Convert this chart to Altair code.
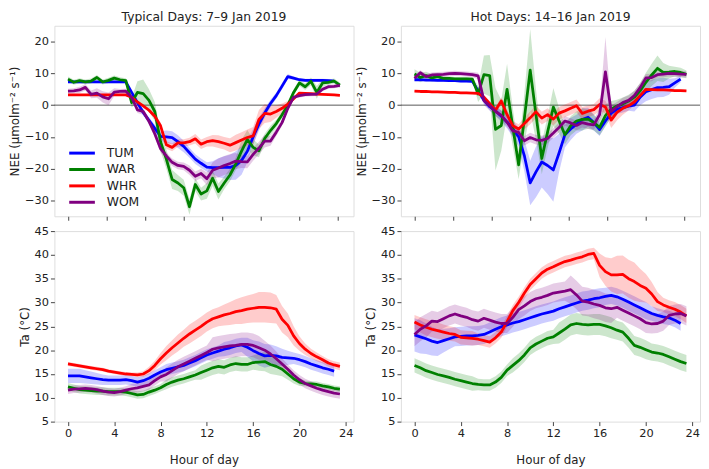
import altair as alt
import pandas as pd

hours = [i * 0.5 for i in range(48)]
sites = ["TUM", "WAR", "WHR", "WOM"]
site_colors = ["#0000ff", "#008000", "#ff0000", "#800080"]

# ---------------- NEE, typical days (7-9 Jan 2019) ----------------
nee_typ_tum = [7.3, 7.3, 7.3, 7.3, 7.3, 7.3, 7.3, 7.3, 7.3, 7.3, 7.3, 4.0, 0.8, -2.3, -4.8, -7.3,
               -9.8, -10.0, -10.2, -11.5, -13.0, -15.0, -17.0, -18.3, -19.5, -19.7, -19.7, -19.6,
               -19.6, -19.0, -17.4, -14.5, -10.0, -6.0, -2.5, 0.5, 3.0, 6.0, 9.0, 8.5, 8.0, 7.8,
               7.8, 7.8, 7.8, 7.7, 7.6, None]
nee_typ_war = [8.2, 7.2, 7.7, 7.3, 7.6, 8.7, 7.3, 7.8, 8.5, 8.0, 7.7, 0.8, 4.0, 3.6, 1.5, -2.0,
               -11.5, -17.0, -23.4, -24.5, -26.0, -32.0, -25.0, -28.0, -27.0, -23.0, -27.2, -24.5,
               -22.0, -18.5, -14.5, -10.8, -13.3, -14.4, -10.5, -8.0, -5.8, -3.0, 0.0, 4.0, 7.0,
               5.8, 7.5, 4.0, 7.0, 7.2, 7.6, 6.3]
nee_typ_whr = [3.2, 3.2, 3.2, 3.2, 3.2, 3.2, 3.2, 3.2, 3.2, 3.2, 3.2, 2.5, 1.0, -0.2, -1.6, -3.5,
               -6.5, -12.5, -13.3, -11.9, -11.9, -11.5, -10.6, -12.3, -11.5, -11.2, -11.5, -12.0,
               -12.6, -11.8, -11.0, -10.2, -9.7, -4.5, -2.6, -2.8, -2.0, -1.0, 0.3, 2.0, 3.8, 3.7,
               3.6, 3.5, 3.4, 3.3, 3.2, 3.1]
nee_typ_wom = [4.4, 4.5, 4.8, 5.6, 3.4, 3.8, 2.6, 2.0, 4.1, 4.3, 4.4, 2.5, -1.5, -2.0, -5.1, -9.0,
               -13.7, -16.0, -18.0, -19.0, -19.3, -20.5, -22.4, -21.5, -23.2, -20.5, -19.8, -19.0,
               -18.4, -17.6, -17.8, -17.9, -15.5, -13.5, -11.3, -11.3, -8.5, -5.5, -1.0, 2.5, 3.0,
               3.3, 3.4, 3.5, 5.0, 5.8, 5.9, 6.2]
sd_nee_typ_tum = [0.4, 0.4, 0.4, 0.4, 0.4, 0.4, 0.4, 0.4, 0.4, 0.4, 0.4, 0.6, 0.8, 1.0, 1.0, 1.2,
                  1.5, 2.0, 2.0, 2.0, 1.8, 1.6, 1.5, 1.5, 1.5, 2.0, 3.0, 3.5, 4.0, 4.5, 4.5, 3.5,
                  2.5, 2.0, 1.5, 1.2, 1.0, 1.0, 0.8, 0.5, 0.5, 0.5, 0.5, 0.5, 0.5, 0.5, 0.5, 0.0]
sd_nee_typ_war = [0.8, 0.8, 0.8, 0.8, 0.8, 0.8, 0.8, 0.8, 0.8, 0.8, 0.8, 1.5, 3.5, 4.5, 3.5, 3.0,
                  3.0, 3.0, 3.0, 2.5, 2.5, 2.5, 2.0, 2.0, 2.5, 2.5, 2.5, 2.0, 2.0, 2.0, 3.5, 3.0,
                  2.5, 2.0, 1.5, 1.5, 1.2, 1.0, 1.0, 1.0, 1.0, 1.0, 1.2, 2.0, 1.2, 0.8, 0.8, 0.8]
sd_nee_typ_whr = [0.3, 0.3, 0.3, 0.3, 0.3, 0.3, 0.3, 0.3, 0.3, 0.3, 0.3, 0.3, 0.4, 0.5, 0.6, 0.8,
                  1.0, 1.2, 1.2, 1.2, 1.2, 1.2, 1.5, 1.5, 1.5, 1.8, 2.0, 2.0, 2.2, 2.5, 2.5, 2.5,
                  2.8, 3.0, 3.0, 2.5, 2.0, 1.5, 1.0, 0.6, 0.3, 0.3, 0.3, 0.3, 0.3, 0.3, 0.3, 0.3]
sd_nee_typ_wom = [0.8, 0.8, 1.0, 1.0, 1.2, 1.5, 1.8, 2.0, 1.2, 0.8, 0.8, 0.8, 1.0, 1.0, 1.0, 1.2,
                  1.2, 1.2, 1.2, 1.2, 1.2, 1.5, 1.5, 1.5, 2.0, 2.5, 3.0, 3.0, 3.0, 2.5, 2.0, 2.0,
                  2.0, 2.0, 2.0, 1.5, 1.2, 1.0, 0.8, 0.6, 0.6, 0.6, 0.6, 0.6, 0.6, 0.6, 0.6, 0.6]

# ---------------- NEE, hot days (14-16 Jan 2019) ----------------
nee_hot_tum = [8.0, 8.0, 7.9, 7.9, 7.8, 7.8, 7.7, 7.7, 7.6, 7.6, 7.5, 4.5, 1.5, -0.5, -1.8, -3.5,
               -5.3, -7.5, -10.0, -16.0, -24.5, -21.0, -17.9, -19.0, -20.4, -15.0, -9.3, -7.5,
               -6.0, -4.5, -3.8, -5.5, -7.7, -5.0, -2.5, -1.3, -0.8, -0.3, 0.0, 2.5, 4.2, 4.9,
               5.5, 5.6, 5.8, 7.0, 8.2, None]
nee_hot_war = [9.8, 8.7, 9.3, 8.6, 9.0, 8.4, 8.4, 8.3, 8.3, 8.3, 8.2, 3.5, 9.6, 9.3, -7.6, -6.4,
               5.0, -7.0, -18.8, -4.0, 11.0, -3.0, -16.8, -8.5, -0.6, -5.0, -9.3, -6.5, -5.0,
               -4.5, -4.4, -5.5, -7.0, -3.3, -1.2, -0.3, 0.4, 1.3, 2.5, 4.5, 7.2, 9.5, 11.6, 10.3,
               10.4, 10.6, 10.3, 9.7]
nee_hot_whr = [4.4, 4.3, 4.3, 4.2, 4.2, 4.1, 4.0, 4.0, 3.9, 3.9, 3.8, 3.7, 2.5, 0.5, -1.6, 1.3,
               -3.0, -6.5, -7.5, -5.8, -4.0, -2.1, -4.1, -3.0, -4.4, -2.5, -1.8, -1.0, -0.2, -2.6,
               -1.9, -1.4, 0.2, -0.6, -4.7, -2.3, -1.0, -0.2, 1.0, 3.0, 5.0, 4.9, 4.8, 4.8, 4.7,
               4.6, 4.6, 4.5]
nee_hot_wom = [8.5, 10.2, 9.0, 9.5, 9.6, 9.7, 9.9, 10.0, 9.9, 9.8, 9.6, 9.2, 1.5, -0.2, -2.0, -3.2,
               -5.4, -8.1, -8.6, -11.2, -10.2, -10.9, -11.1, -10.5, -8.8, -7.0, -5.0, -5.6, -6.4,
               -5.5, -6.0, -6.2, -3.0, 10.5, -2.0, -0.5, 0.8, 1.5, 3.0, 5.5, 8.6, 8.7, 9.6, 9.8,
               10.0, 9.9, 9.8, 9.7]
sd_nee_hot_tum = [0.4, 0.4, 0.4, 0.4, 0.4, 0.4, 0.4, 0.4, 0.4, 0.4, 0.4, 0.8, 1.0, 1.2, 1.5, 1.8,
                  2.0, 2.5, 3.0, 5.0, 7.0, 8.0, 8.0, 9.0, 10.0, 6.0, 4.0, 3.5, 3.0, 3.5, 3.0, 2.5,
                  2.0, 1.5, 1.5, 1.5, 1.5, 1.5, 2.0, 2.5, 3.0, 3.0, 3.0, 3.0, 2.5, 1.5, 1.0, 0.0]
sd_nee_hot_war = [1.5, 1.5, 1.2, 1.2, 1.0, 0.6, 0.6, 0.6, 0.6, 0.6, 0.6, 2.5, 6.0, 6.5, 13.0, 8.0,
                  8.0, 6.0, 4.5, 8.0, 13.0, 8.0, 5.0, 5.0, 6.0, 4.0, 3.0, 3.0, 3.0, 3.5, 3.0, 2.5,
                  2.5, 3.5, 2.5, 2.0, 2.0, 2.0, 2.0, 2.5, 3.0, 3.5, 4.0, 3.0, 2.0, 1.5, 1.5, 1.2]
sd_nee_hot_whr = [0.3, 0.3, 0.3, 0.3, 0.3, 0.3, 0.3, 0.3, 0.3, 0.3, 0.3, 0.4, 0.6, 0.8, 1.0, 1.2,
                  1.5, 1.5, 1.5, 1.8, 2.0, 2.0, 2.0, 2.0, 2.0, 2.0, 2.0, 2.0, 2.0, 2.0, 1.8, 1.8,
                  2.0, 2.0, 2.5, 2.5, 2.0, 1.5, 1.0, 0.8, 0.3, 0.3, 0.3, 0.3, 0.3, 0.3, 0.3, 0.3]
sd_nee_hot_wom = [0.8, 0.8, 0.8, 0.8, 0.8, 0.8, 0.8, 0.8, 0.8, 0.8, 0.8, 1.0, 1.5, 1.5, 1.5, 1.5,
                  1.5, 1.5, 1.5, 1.5, 1.5, 1.5, 1.5, 1.5, 1.5, 1.5, 1.5, 1.5, 1.5, 1.5, 1.5, 1.5,
                  2.0, 11.0, 2.0, 1.5, 1.5, 1.5, 1.5, 1.5, 1.2, 1.2, 1.0, 1.0, 1.0, 1.0, 1.0, 1.0]

# ---------------- Ta, typical days ----------------
ta_typ_tum = [14.6, 14.6, 14.6, 14.4, 14.2, 14.0, 13.8, 13.7, 13.7, 13.7, 13.8, 13.6, 13.3, 13.6,
              14.1, 14.8, 15.4, 15.9, 16.2, 16.5, 16.8, 17.3, 17.8, 18.4, 19.0, 19.4, 19.8, 20.2,
              20.5, 20.9, 21.1, 20.6, 19.9, 19.3, 18.8, 18.9, 18.8, 18.5, 18.4, 18.3, 18.0, 17.6,
              17.1, 16.7, 16.3, 16.0, 15.6, None]
ta_typ_war = [12.3, 12.0, 11.7, 11.6, 11.5, 11.4, 11.4, 11.3, 11.3, 11.3, 11.2, 10.9, 10.6, 10.7,
              11.2, 11.6, 12.1, 12.8, 13.3, 13.7, 14.0, 14.4, 14.8, 15.3, 15.8, 16.3, 16.6, 16.4,
              16.9, 17.2, 17.0, 17.0, 17.4, 17.5, 17.6, 17.0, 16.6, 16.0, 15.0, 14.0, 13.3, 13.0,
              12.9, 12.8, 12.5, 12.3, 12.0, 11.8]
ta_typ_whr = [17.1, 16.9, 16.7, 16.5, 16.3, 16.1, 15.9, 15.6, 15.4, 15.2, 15.0, 14.9, 14.8, 15.0,
              15.7, 16.8, 18.2, 19.4, 20.5, 21.5, 22.5, 23.4, 24.2, 25.0, 25.9, 26.6, 27.0, 27.4,
              27.7, 28.1, 28.3, 28.6, 28.8, 29.0, 29.0, 28.9, 28.6, 26.5, 25.2, 23.0, 21.4, 20.2,
              19.3, 18.6, 18.0, 17.3, 16.9, 16.6]
ta_typ_wom = [11.6, 11.8, 11.9, 12.0, 11.9, 11.7, 11.4, 11.2, 11.1, 11.3, 11.6, 11.9, 12.1, 12.4,
              12.7, 13.6, 14.4, 14.9, 15.7, 16.5, 17.1, 17.7, 18.3, 18.9, 19.5, 20.2, 20.5, 20.7,
              20.9, 21.0, 21.2, 21.2, 21.0, 20.5, 20.0, 19.2, 18.2, 17.1, 16.0, 14.8, 13.8, 13.0,
              12.5, 12.0, 11.6, 11.3, 11.0, 10.8]
sd_ta_typ_tum = [1.5, 1.5, 1.5, 1.4, 1.3, 1.2, 1.1, 1.0, 1.0, 1.0, 1.0, 1.0, 1.0, 1.0, 1.0, 1.0,
                 1.0, 1.2, 1.2, 1.2, 1.2, 1.2, 1.2, 1.2, 1.2, 1.2, 1.2, 1.5, 1.5, 1.5, 1.5, 2.0,
                 2.2, 2.5, 2.5, 2.3, 2.0, 1.8, 1.5, 1.2, 1.2, 1.2, 1.2, 1.2, 1.2, 1.2, 1.2, 0.0]
sd_ta_typ_war = [0.8, 0.8, 0.8, 0.8, 0.8, 0.8, 0.8, 0.8, 0.8, 0.8, 0.8, 0.8, 0.8, 0.8, 0.8, 0.8,
                 0.8, 1.0, 1.0, 1.0, 1.0, 1.0, 1.0, 1.5, 1.5, 1.5, 1.5, 1.5, 1.5, 1.5, 1.5, 1.5,
                 1.5, 1.8, 2.0, 2.0, 1.8, 1.5, 1.2, 1.0, 0.8, 0.6, 0.6, 0.6, 0.6, 0.6, 0.6, 0.6]
sd_ta_typ_whr = [0.4, 0.4, 0.4, 0.4, 0.4, 0.4, 0.4, 0.4, 0.4, 0.4, 0.4, 0.4, 0.5, 0.6, 0.8, 1.0,
                 1.2, 1.5, 1.6, 1.8, 1.8, 2.0, 2.0, 2.0, 2.0, 2.0, 2.0, 2.2, 2.4, 2.6, 2.8, 2.9,
                 3.0, 3.2, 3.2, 3.2, 3.0, 2.8, 2.5, 2.0, 1.5, 1.2, 1.0, 0.9, 0.8, 0.8, 0.8, 0.8]
sd_ta_typ_wom = [0.8, 0.8, 0.8, 0.8, 0.8, 0.8, 0.8, 0.8, 0.8, 0.8, 0.8, 1.0, 1.0, 1.0, 1.0, 1.0,
                 1.0, 1.5, 1.5, 1.5, 1.5, 1.5, 1.5, 1.5, 1.5, 2.5, 2.5, 2.5, 2.5, 2.5, 2.5, 2.5,
                 2.5, 2.5, 2.0, 1.8, 1.5, 1.2, 1.0, 1.0, 1.0, 1.0, 1.0, 1.0, 1.0, 1.0, 1.0, 1.0]

# ---------------- Ta, hot days ----------------
ta_hot_tum = [23.2, 22.8, 22.4, 21.9, 21.6, 22.0, 22.4, 22.8, 22.9, 23.0, 23.0, 23.1, 23.3, 23.8,
              24.4, 24.9, 25.3, 25.7, 26.0, 26.4, 26.8, 27.2, 27.6, 27.9, 28.2, 28.7, 29.1, 29.5,
              29.9, 30.3, 30.5, 30.8, 31.0, 31.3, 31.5, 31.2, 30.7, 30.1, 29.5, 28.9, 28.3, 27.7,
              27.3, 27.0, 26.8, 26.3, 25.6, None]
ta_hot_war = [16.8, 16.3, 15.7, 15.3, 14.9, 14.6, 14.3, 13.9, 13.6, 13.3, 13.0, 12.8, 12.7, 12.7,
              13.3, 14.3, 15.8, 16.8, 17.8, 19.0, 20.5, 21.3, 21.9, 22.5, 22.8, 23.6, 24.4, 25.3,
              25.6, 25.4, 25.3, 25.4, 25.4, 25.1, 24.7, 24.2, 23.8, 22.5, 21.0, 20.6, 20.1, 19.6,
              19.4, 19.1, 18.6, 18.1, 17.6, 17.2]
ta_hot_whr = [25.9, 25.3, 24.8, 24.4, 24.1, 23.8, 23.5, 23.3, 22.7, 22.6, 22.5, 22.3, 22.0, 21.7,
              22.6, 23.8, 26.0, 28.3, 30.0, 32.0, 33.8, 35.0, 36.2, 37.0, 37.5, 38.1, 38.6, 38.9,
              39.3, 39.6, 40.1, 40.3, 37.8, 36.5, 35.8, 35.8, 35.9, 35.0, 34.4, 33.6, 33.0, 31.8,
              30.2, 29.5, 29.0, 28.6, 28.0, 27.2]
ta_hot_wom = [23.3, 24.4, 25.1, 26.1, 26.0, 26.6, 27.2, 27.6, 27.2, 26.9, 26.4, 26.1, 26.7, 26.3,
              25.9, 25.6, 25.6, 26.9, 28.5, 29.3, 30.2, 30.8, 31.1, 31.5, 32.0, 32.2, 32.4, 32.7,
              31.6, 30.3, 30.1, 29.7, 29.4, 28.9, 28.7, 29.0, 28.4, 27.8, 27.2, 26.6, 25.8, 25.5,
              25.6, 26.1, 27.3, 27.6, 27.7, 27.2]
sd_ta_hot_tum = [3.5, 3.5, 3.2, 3.0, 2.8, 2.5, 2.2, 2.0, 2.0, 2.0, 2.0, 2.0, 2.0, 2.0, 2.0, 2.0,
                 2.0, 2.0, 2.0, 2.0, 2.0, 2.0, 2.0, 2.0, 2.0, 2.0, 2.0, 2.0, 2.0, 2.0, 2.0, 2.0,
                 2.0, 1.8, 1.8, 1.8, 1.8, 1.8, 1.8, 1.8, 1.8, 1.5, 1.5, 1.5, 1.5, 1.5, 1.5, 0.0]
sd_ta_hot_war = [1.5, 1.5, 1.5, 1.5, 1.5, 1.5, 1.5, 1.5, 1.5, 1.5, 1.5, 1.2, 1.2, 1.2, 1.2, 1.2,
                 1.2, 1.5, 1.5, 1.5, 1.5, 1.5, 1.5, 1.5, 1.5, 2.2, 2.2, 2.2, 2.2, 2.2, 2.2, 2.2,
                 2.2, 2.2, 2.2, 2.0, 2.0, 2.0, 2.0, 2.0, 2.0, 1.8, 1.8, 1.8, 1.8, 1.8, 1.8, 1.8]
sd_ta_hot_whr = [1.5, 1.6, 1.7, 1.7, 1.7, 1.6, 1.5, 1.5, 1.5, 1.5, 1.5, 1.2, 1.2, 1.2, 1.2, 1.2,
                 1.2, 1.2, 1.2, 1.2, 1.2, 1.2, 1.2, 1.2, 1.2, 1.2, 1.2, 1.2, 1.2, 1.2, 1.2, 1.2,
                 2.5, 3.0, 3.5, 4.0, 4.0, 4.0, 4.0, 3.5, 3.0, 2.5, 2.0, 1.5, 1.5, 1.5, 1.5, 1.5]
sd_ta_hot_wom = [2.5, 2.5, 2.5, 2.2, 2.0, 2.0, 2.0, 2.0, 2.0, 2.0, 2.0, 2.0, 2.0, 2.0, 2.0, 2.0,
                 2.0, 2.0, 2.0, 2.0, 2.0, 2.0, 2.0, 2.0, 2.0, 2.0, 2.0, 3.0, 3.0, 3.0, 3.0, 3.0,
                 3.0, 3.0, 3.0, 2.2, 2.2, 2.2, 2.2, 2.2, 2.2, 2.0, 2.0, 2.0, 2.0, 2.0, 2.0, 2.0]

top_ticks = [0, 10 / 3, 20 / 3, 10, 40 / 3, 50 / 3, 20, 70 / 3]
bottom_ticks = [0, 4, 8, 12, 16, 20, 24]
nee_ticks = [-30, -20, -10, 0, 10, 20]
ta_ticks = [5, 10, 15, 20, 25, 30, 35, 40, 45]
zero_line = [0]


def make_frame(series, spreads):
    rows = []
    for site, vals, sds in zip(sites, series, spreads):
        for h, v, s in zip(hours, vals, sds):
            if v is None:
                continue
            rows.append({"hour": h, "value": v, "lo": v - s, "hi": v + s, "site": site})
    return pd.DataFrame(rows)


W, H = 303, 193
FONT = "DejaVu Sans"
TXT = "#222222"


def panel(df, ydom, yticks, ytitle, title, bottom, legend):
    xaxis = alt.Axis(
        values=bottom_ticks if bottom else top_ticks,
        labels=bottom,
        title="Hour of day" if bottom else None,
        tickSize=4, tickColor="#444444", domain=False, grid=False, labelOverlap=False,
        labelFontSize=11.5, labelColor=TXT, labelPadding=2, labelFont=FONT,
        titleFontSize=12, titleFontWeight="normal", titleColor=TXT, titlePadding=16, titleFont=FONT,
    )
    yaxis = alt.Axis(
        values=yticks, title=ytitle, tickSize=4, tickColor="#444444", domain=False, grid=False,
        labelOverlap=False, labelFontSize=11.5, labelColor=TXT, labelPadding=2, labelFont=FONT,
        titleFontSize=12, titleFontWeight="normal", titleColor=TXT, titlePadding=3, titleFont=FONT,
    )
    xs = alt.Scale(domain=[-1.175, 24.675], nice=False, zero=False)
    ys = alt.Scale(domain=ydom, nice=False, zero=False)
    cs = alt.Scale(domain=sites, range=site_colors)
    if legend:
        leg = alt.Legend(
            title=None, orient="none", legendX=20, legendY=121, direction="vertical",
            symbolType="M-2,0L2,0", symbolSize=169, symbolStrokeWidth=3, symbolOpacity=1,
            labelFontSize=12.5, labelFont=FONT, labelColor=TXT, labelOffset=17,
            rowPadding=1.6, padding=0,
        )
    else:
        leg = None
    base = alt.Chart(df)
    layers = []
    if ydom[0] < 0:
        zl = alt.Chart(pd.DataFrame({"z": zero_line})).mark_rule(color="#555555", strokeWidth=1).encode(
            x=alt.value(0), x2=alt.value(W),
            y=alt.Y("z:Q", scale=ys, axis=yaxis)
        )
        layers.append(zl)
    # one band layer per site, coloured directly (no legend involvement)
    for site, col in zip(sites, site_colors):
        band = base.transform_filter(alt.datum.site == site).mark_area(
            opacity=0.2, clip=True, color=col
        ).encode(
            x=alt.X("hour:Q", scale=xs, axis=xaxis),
            y=alt.Y("lo:Q", scale=ys, axis=yaxis),
            y2="hi:Q",
        )
        layers.append(band)
    line = base.mark_line(strokeWidth=2.8, strokeJoin="round", clip=True).encode(
        x=alt.X("hour:Q", scale=xs, axis=xaxis),
        y=alt.Y("value:Q", scale=ys, axis=yaxis),
        color=alt.Color("site:N", scale=cs, legend=leg),
    )
    layers.append(line)
    ch = alt.layer(*layers).properties(width=W, height=H)
    if title:
        ch = ch.properties(title=alt.TitleParams(text=title, fontSize=12.5, font=FONT, fontWeight="normal",
                                                 color=TXT, offset=2, anchor="middle"))
    return ch


nee_label = "NEE (μmolm⁻² s⁻¹)"
ta_label = "Ta (°C)"

tl = panel(make_frame([nee_typ_tum, nee_typ_war, nee_typ_whr, nee_typ_wom],
                      [sd_nee_typ_tum, sd_nee_typ_war, sd_nee_typ_whr, sd_nee_typ_wom]),
           [-35, 25], nee_ticks, nee_label, "Typical Days: 7–9 Jan 2019", False, True)
tr = panel(make_frame([nee_hot_tum, nee_hot_war, nee_hot_whr, nee_hot_wom],
                      [sd_nee_hot_tum, sd_nee_hot_war, sd_nee_hot_whr, sd_nee_hot_wom]),
           [-35, 25], nee_ticks, nee_label, "Hot Days: 14–16 Jan 2019", False, False)
bl = panel(make_frame([ta_typ_tum, ta_typ_war, ta_typ_whr, ta_typ_wom],
                      [sd_ta_typ_tum, sd_ta_typ_war, sd_ta_typ_whr, sd_ta_typ_wom]),
           [5, 45], ta_ticks, ta_label, None, True, False)
br = panel(make_frame([ta_hot_tum, ta_hot_war, ta_hot_whr, ta_hot_wom],
                      [sd_ta_hot_tum, sd_ta_hot_war, sd_ta_hot_whr, sd_ta_hot_wom]),
           [5, 45], ta_ticks, ta_label, None, True, False)

chart = alt.concat(tl, tr, bl, br, columns=2, spacing={"row": 15, "column": 48}, bounds="flush").resolve_scale(
    color="independent"
).resolve_legend(color="independent").properties(padding=0).configure_view(
    stroke="#a8a8a8", strokeWidth=1
).configure(font=FONT)

chart.save("out.html", embed_options={"renderer": "svg", "actions": False})
